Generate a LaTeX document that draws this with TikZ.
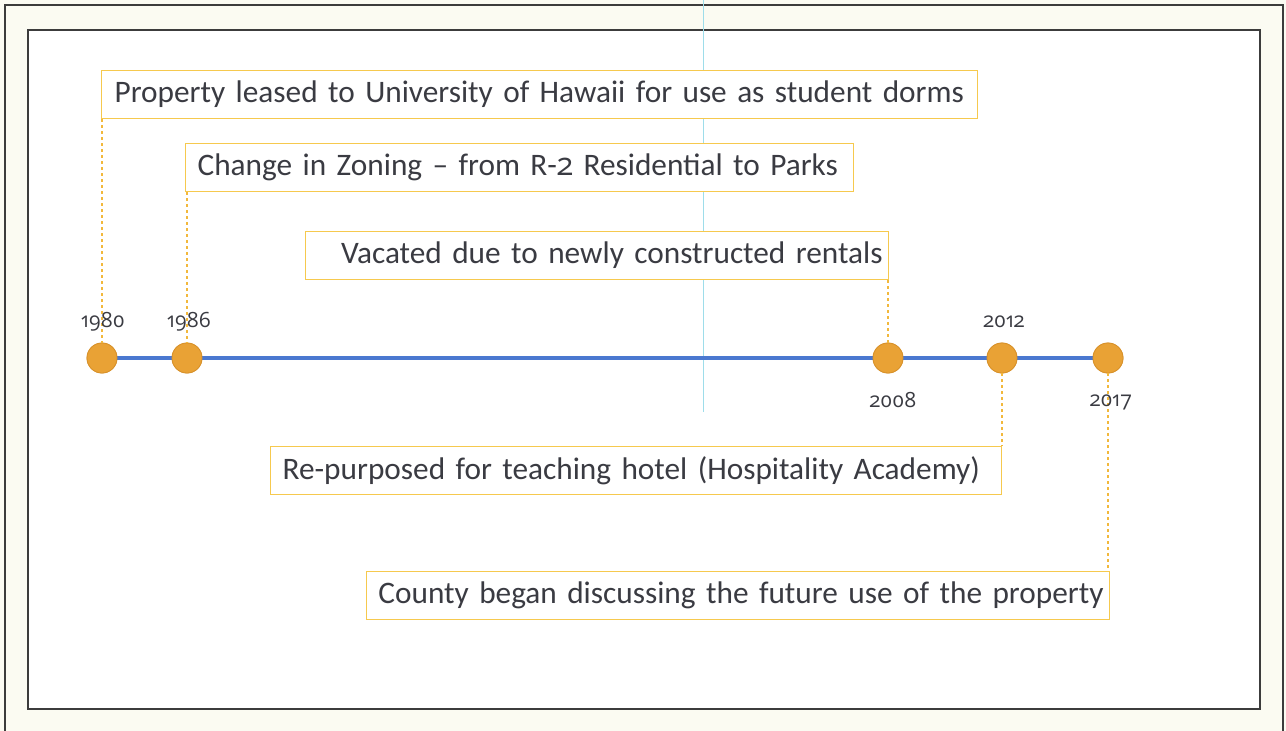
\documentclass[tikz,border=0pt]{standalone}
\usepackage{fontspec}
\setmainfont{Carlito}[WordSpace=0.85]
\newfontfamily\yrfont{Open Sans}[Numbers=OldStyle]
\definecolor{txt}{HTML}{3A3B42}
\definecolor{boxline}{HTML}{F6C94E}
\definecolor{dashc}{HTML}{F2B83C}
\definecolor{dotfill}{HTML}{E9A235}
\definecolor{dotdraw}{HTML}{D8912A}
\definecolor{tline}{HTML}{4A78D0}
\definecolor{frame}{HTML}{3C3C3C}
\definecolor{cream}{HTML}{FBFBF2}
\definecolor{scan}{HTML}{9EDDEA}
\begin{document}
\begin{tikzpicture}[x=1pt,y=-1pt,
  evbox/.style={draw=boxline, line width=1.2pt, fill=white, text=txt, font=\fontsize{31.3}{35}\selectfont,
     minimum height=48pt, inner xsep=0pt, inner ysep=0pt, anchor=north west},
  yr/.style={text=txt, font=\yrfont\fontsize{21}{23}\selectfont, inner sep=0pt},
  dot/.style={circle, fill=dotfill, draw=dotdraw, line width=0.8pt, minimum size=30pt, inner sep=0pt},
  lead/.style={draw=dashc, line width=1.1pt, dash pattern=on 3pt off 3pt}]
\useasboundingbox (0,0) rectangle (1286,731);
\fill[cream] (0,0) rectangle (1286,731);
\draw[frame, line width=2pt] (5,731) -- (5,5) -- (1283,5) -- (1283,731);
\fill[white] (28,30) rectangle (1260,709);
\draw[frame, line width=1.8pt] (28,30) rectangle (1260,709);
\draw[scan, line width=0.8pt] (703,0) -- (703,412);

% event boxes
\node[evbox, minimum width=876pt, text width=876pt, align=left] (b1) at (101,70) {\hspace*{13pt}Property leased to University of Hawaii for use as student dorms};
\node[evbox, minimum width=668pt, text width=668pt, align=left] (b2) at (185,143) {\hspace*{12pt}Change in Zoning -- from R-{\yrfont 2} Residential to Parks};
\node[evbox, minimum width=583pt, text width=583pt, align=right] (b3) at (305,231) {Vacated due to newly constructed rentals\hspace*{6pt}};
\node[evbox, minimum width=731pt, text width=731pt, align=left] (b4) at (270,446) {\hspace*{12pt}Re-purposed for teaching hotel (Hospitality Academy)};
\node[evbox, minimum width=743pt, text width=743pt, align=right] (b5) at (366,571) {County began discussing the future use of the property\hspace*{6pt}};

% timeline
\node[dot] (c1980) at (102,358) {};
\node[dot] (c1986) at (187,358) {};
\node[dot] (c2008) at (888,358) {};
\node[dot] (c2012) at (1002,358) {};
\node[dot] (c2017) at (1108,358) {};
\draw[tline, line width=4pt] (c1980) -- (c1986) -- (c2008) -- (c2012) -- (c2017);
\foreach \n in {c1980,c1986,c2008,c2012,c2017}{
  \node[dot] at (\n) {};
}

% leader lines
\coordinate (l1) at (b1.south west -| c1980);
\draw[lead] (l1) -- (c1980.north);
\coordinate (l2) at (b2.south west -| c1986);
\draw[lead] (l2) -- (c1986.north);
\coordinate (l3) at (b3.south east -| c2008);
\draw[lead] (l3) -- (c2008.north);
\coordinate (l4) at (b4.north east -| c2012);
\draw[lead] (c2012.south) -- (l4);
\coordinate (l5) at (b5.north east -| c2017);
\draw[lead] (c2017.south) -- (l5);

% year labels
\node[yr] (y1980) at (103,322) {1980};
\node[yr] (y1986) at (189,322) {1986};
\node[yr] (y2008) at (893,400) {2008};
\node[yr] (y2012) at (1004,322) {2012};
\node[yr] (y2017) at (1111,402) {2017};
\end{tikzpicture}
\end{document}
